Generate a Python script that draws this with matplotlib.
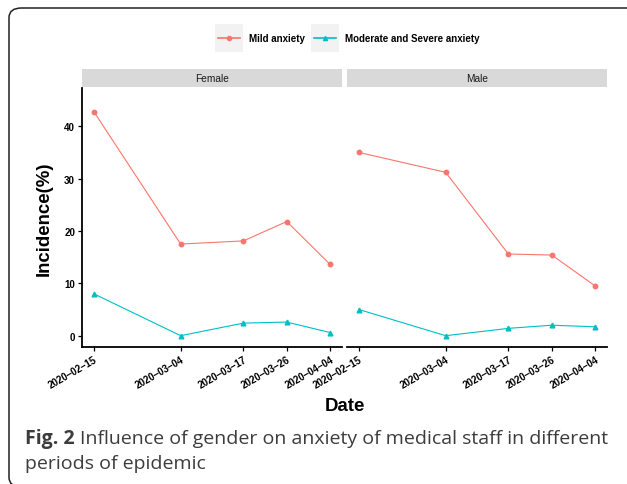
import datetime as dt

import matplotlib
matplotlib.use("Agg")
import matplotlib.pyplot as plt
import matplotlib.dates as mdates
from matplotlib.lines import Line2D
from matplotlib.patches import Rectangle, FancyBboxPatch

# data
dates = ["2020-02-15", "2020-03-04", "2020-03-17", "2020-03-26", "2020-04-04"]
panels = ["Female", "Male"]
mild_female = [42.8, 17.5, 18.1, 21.8, 13.6]
severe_female = [8.0, 0.0, 2.4, 2.6, 0.6]
mild_male = [35.0, 31.2, 15.6, 15.4, 9.5]
severe_male = [5.0, 0.0, 1.4, 2.0, 1.7]
series_names = ["Mild anxiety", "Moderate and Severe anxiety"]
y_ticks = [0, 10, 20, 30, 40]

col_mild = "#F8766D"
col_sev = "#00BFC4"

W, H = 627, 485
fig = plt.figure(figsize=(W / 100, H / 100), dpi=100)
plt.rcParams["font.family"] = ["Liberation Sans", "DejaVu Sans"]


def px_rect(x0, y0, x1, y1):
    # pixel box (top-left origin) -> figure fraction rect
    return [x0 / W, 1 - y1 / H, (x1 - x0) / W, (y1 - y0) / H]


def fx(x):
    return x / W


def fy(y):
    return 1 - y / H


# rounded frame around everything (cropped at right/bottom)
frame = FancyBboxPatch((fx(9), fy(488)), fx(640) - fx(9), fy(9) - fy(488),
                       boxstyle="round,pad=0,rounding_size=0.02",
                       transform=fig.transFigure, fill=False,
                       edgecolor="#222222", linewidth=1.1, clip_on=False)
fig.add_artist(frame)

x = [mdates.date2num(dt.date.fromisoformat(d)) for d in dates]
span = x[-1] - x[0]
xlim = (x[0] - 0.05 * span, x[-1] + 0.05 * span)
tick_text = [d.replace("-", "\u2013") for d in dates]

data = {"Female": (mild_female, severe_female), "Male": (mild_male, severe_male)}
boxes = {"Female": (82, 342), "Male": (347, 607)}

for i, name in enumerate(panels):
    x0, x1 = boxes[name]
    ax = fig.add_axes(px_rect(x0, 89, x1, 348))
    mild, sev = data[name]
    ax.plot(x, mild, color=col_mild, lw=0.8, marker="o", ms=3.2, mec=col_mild)
    ax.plot(x, sev, color=col_sev, lw=0.8, marker="^", ms=3.4, mec=col_sev)
    ax.set_xlim(xlim)
    ax.set_ylim(-2.16, 47.3)
    ax.set_xticks(x)
    ax.set_xticklabels(tick_text, rotation=30, ha="right", rotation_mode="anchor",
                       fontsize=7, fontweight="bold")
    ax.set_yticks(y_ticks)
    ax.set_yticklabels([str(t) for t in y_ticks], fontsize=7, fontweight="bold")
    ax.tick_params(length=3, width=0.9, colors="black", pad=2)
    for s in ["top", "right"]:
        ax.spines[s].set_visible(False)
    ax.spines["bottom"].set_linewidth(1.3)
    ax.spines["left"].set_linewidth(1.3)
    if i > 0:
        ax.spines["left"].set_visible(False)
        ax.tick_params(axis="y", left=False, labelleft=False)
    ax.patch.set_alpha(0)

    # facet strip
    sax = fig.add_axes(px_rect(x0, 70, x1, 88))
    sax.set_facecolor("#D9D9D9")
    sax.set_xticks([])
    sax.set_yticks([])
    for s in sax.spines.values():
        s.set_visible(False)
    sax.text(0.5, 0.5, name, ha="center", va="center", fontsize=7.3,
             color="#1a1a1a", transform=sax.transAxes)

fig.text(fx(44), fy(219), "Incidence(%)", rotation=90, ha="center", va="center",
         fontsize=13.4, fontweight="bold")
fig.text(fx(345), fy(407), "Date", ha="center", va="center",
         fontsize=13.4, fontweight="bold")

# legend drawn by hand: grey key boxes like ggplot
keys = [(215, col_mild, "o"), (311, col_sev, "^")]
for (kx, col, mk), label in zip(keys, series_names):
    fig.add_artist(Rectangle((fx(kx), fy(53)), fx(28), fy(25) - fy(53),
                             transform=fig.transFigure, facecolor="#F2F2F2",
                             edgecolor="none"))
    fig.add_artist(Line2D([fx(kx + 3), fx(kx + 25)], [fy(39), fy(39)],
                          transform=fig.transFigure, color=col, lw=1.2))
    fig.add_artist(Line2D([fx(kx + 14)], [fy(39)], transform=fig.transFigure,
                          color=col, marker=mk, ms=3, lw=0))
    fig.text(fx(kx + 34), fy(39), label, ha="left", va="center",
             fontsize=7, fontweight="bold")

# caption
cap_kw = dict(fontsize=14, color="#3c3c3c", family=["Open Sans", "DejaVu Sans"],
              va="baseline", ha="left")
t1 = fig.text(fx(25), fy(444), "Fig. 2", fontweight="bold", **cap_kw)
fig.canvas.draw()
bb = t1.get_window_extent()
fig.text(bb.x1 / W + fx(5), fy(444),
         "Influence of gender on anxiety of medical staff in different", **cap_kw)
fig.text(fx(25), fy(469), "periods of epidemic", **cap_kw)

fig.savefig("out.png", dpi=100)
